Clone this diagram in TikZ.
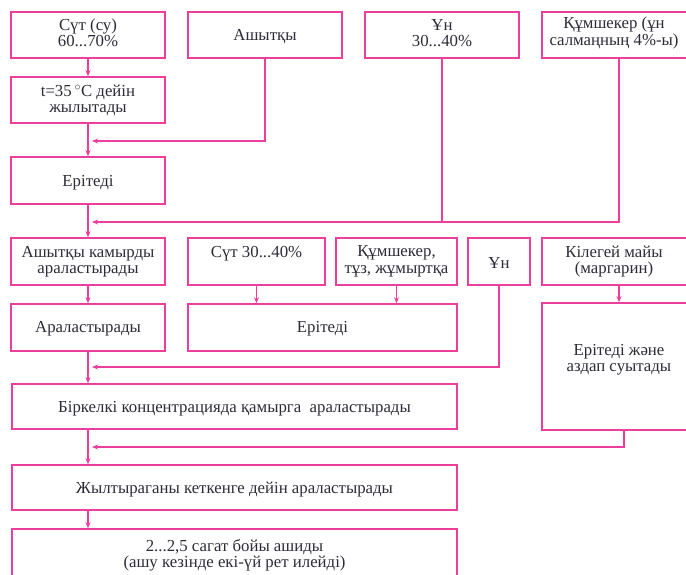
\documentclass[tikz,border=0pt]{standalone}
\usepackage{fontspec}
\setmainfont{Liberation Serif}
\usetikzlibrary{arrows.meta}
\definecolor{pinkline}{HTML}{EC3E9A}
\definecolor{txt}{HTML}{2C2C38}
\begin{document}
\begin{tikzpicture}[x=1pt,y=-1pt,
  box/.style={draw=pinkline, line width=1.6pt, rectangle, inner sep=0pt},
  lbl/.style={inner sep=0pt, align=center, text=txt, font=\fontsize{16.8}{16.5}\selectfont},
  conn/.style={draw=pinkline, line width=1.5pt},
  arr/.style={conn, -{Stealth[length=6pt,width=5pt]}}]
\useasboundingbox (0,0) rectangle (686,574);
\begin{scope}
\clip (0,0) rectangle (686,574);
\node[box, minimum width=154pt, minimum height=46pt] (a1) at (88,35) {};
\node[lbl] (a1t) at (88,33) {Сүт (су)\\60...70\%};
\node[box, minimum width=154pt, minimum height=46pt] (a2) at (265,35) {};
\node[lbl] (a2t) at (265,37) {Ашытқы};
\node[box, minimum width=154pt, minimum height=46pt] (a3) at (442,35) {};
\node[lbl] (a3t) at (442,33) {Ұн\\30...40\%};
\node[box, minimum width=154pt, minimum height=46pt] (a4) at (619,35) {};
\node[lbl] (a4t) at (614,33) {Құмшекер (ұн\\салмаңның 4\%-ы)};
\node[box, minimum width=154pt, minimum height=46pt] (b1) at (88,100) {};
\node[lbl] (b1t) at (88,100.5) {t=35\,$^{\circ}$C дейін\\жылытады};
\node[box, minimum width=154pt, minimum height=47pt] (c1) at (88,180.5) {};
\node[lbl] (c1t) at (88,182.5) {Ерітеді};
\node[box, minimum width=154pt, minimum height=47pt] (d1) at (88,261.5) {};
\node[lbl] (d1t) at (88,261.5) {Ашытқы камырды\\араластырады};
\node[box, minimum width=137pt, minimum height=47pt] (d2) at (256.5,261.5) {};
\node[lbl] (d2t) at (256.5,254) {Сүт 30...40\%};
\node[box, minimum width=121pt, minimum height=47pt] (d3) at (396.5,261.5) {};
\node[lbl] (d3t) at (396.5,261.5) {Құмшекер,\\тұз, жұмыртқа};
\node[box, minimum width=62pt, minimum height=47pt] (d4) at (499,261.5) {};
\node[lbl] (d4t) at (499,263) {Ұн};
\node[box, minimum width=154pt, minimum height=47pt] (d5) at (619,261.5) {};
\node[lbl] (d5t) at (614,261.5) {Кілегей майы\\(маргарин)};
\node[box, minimum width=154pt, minimum height=47pt] (e1) at (88,327.5) {};
\node[lbl] (e1t) at (88,328.5) {Араластырады};
\node[box, minimum width=269pt, minimum height=47pt] (e2) at (322.5,327.5) {};
\node[lbl] (e2t) at (322.5,328.5) {Ерітеді};
\node[box, minimum width=164pt, minimum height=127pt] (e3) at (624,366.5) {};
\node[lbl] (e3t) at (619,359.5) {Ерітеді және\\аздап суытады};
\node[box, minimum width=445pt, minimum height=45pt] (f) at (234.5,406.5) {};
\node[lbl] (ft) at (234.5,408.5) {Біркелкі концентрацияда қамырга\ \ араластырады};
\node[box, minimum width=445pt, minimum height=45pt] (g) at (234.5,487.5) {};
\node[lbl] (gt) at (234.5,489.5) {Жылтыраганы кеткенге дейін араластырады};
\node[box, minimum width=445pt, minimum height=71pt] (h) at (234.5,564.5) {};
\node[lbl] (ht) at (234.5,555.5) {2...2,5 сагат бойы ашиды\\(ашу кезінде екі-үй рет илейді)};
\end{scope}
\coordinate (j1) at (92,141);
\coordinate (j2) at (92,222);
\coordinate (j3) at (92,367);
\coordinate (j4) at (92,447);
\draw[arr] (a1.south) -- (b1.north);
\draw[arr] (a2.south) |- (j1);
\draw[arr] (b1.south) -- (c1.north);
\draw[conn] (a4.south) |- (a3.south |- j2);
\draw[arr] (a3.south) |- (j2);
\draw[arr] (c1.south) -- (d1.north);
\draw[arr] (d1.south) -- (e1.north);
\draw[arr] (d2.south) -- (d2.south |- e2.north);
\draw[arr] (d3.south) -- (d3.south |- e2.north);
\draw[arr] (d5.south) -- (d5.south |- e3.north);
\draw[arr] (d4.south) |- (j3);
\draw[arr] (e1.south) -- (e1.south |- f.north);
\draw[arr] (e3.south) |- (j4);
\draw[arr] (e1.south |- f.south) -- (e1.south |- g.north);
\draw[arr] (e1.south |- g.south) -- (e1.south |- h.north);
\end{tikzpicture}
\end{document}
